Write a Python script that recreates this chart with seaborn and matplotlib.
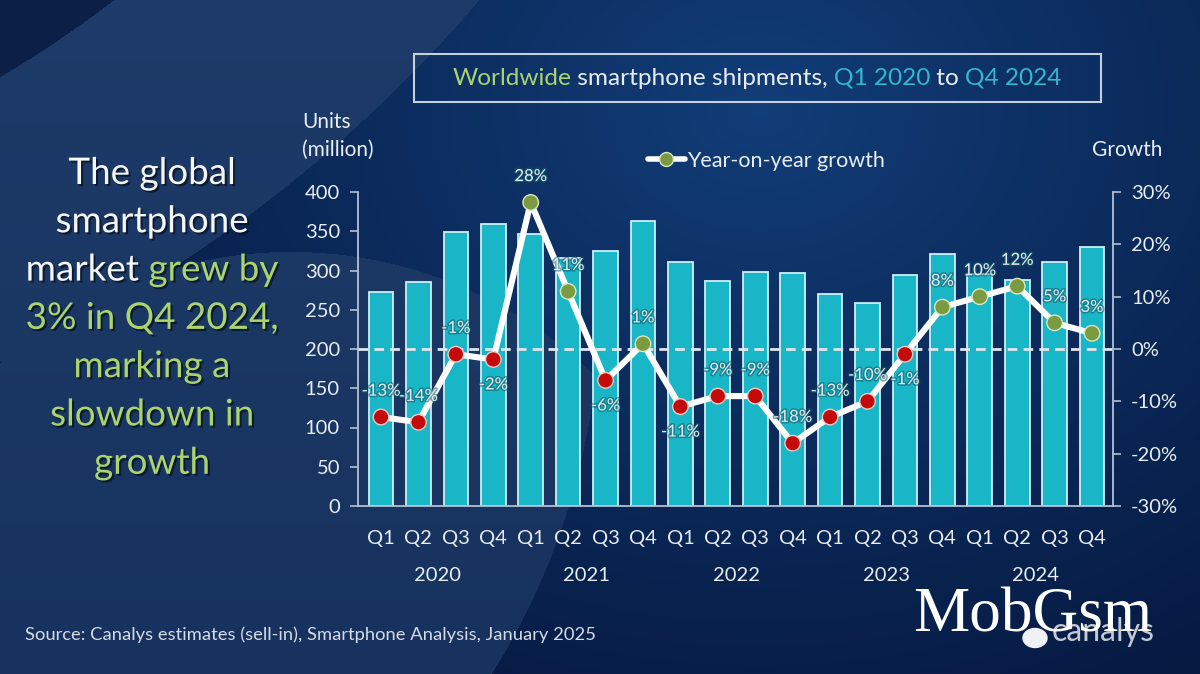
import numpy as np
import pandas as pd
import matplotlib
matplotlib.use("Agg")
import matplotlib.pyplot as plt
import seaborn as sns
from matplotlib import patheffects as pe
from matplotlib.patches import Rectangle, Ellipse
from matplotlib.lines import Line2D
from matplotlib.ticker import FuncFormatter

# ---------------- data ----------------
quarters = ["Q1", "Q2", "Q3", "Q4", "Q1", "Q2", "Q3", "Q4", "Q1", "Q2",
            "Q3", "Q4", "Q1", "Q2", "Q3", "Q4", "Q1", "Q2", "Q3", "Q4"]
quarter_years = ["2020", "2020", "2020", "2020", "2021", "2021", "2021", "2021",
                 "2022", "2022", "2022", "2022", "2023", "2023", "2023", "2023",
                 "2024", "2024", "2024", "2024"]
years = ["2020", "2021", "2022", "2023", "2024"]
shipments = [272.5, 285.0, 348.5, 359.5, 347.0, 316.0, 325.0, 362.5, 311.0, 287.0,
             298.0, 297.0, 269.5, 258.0, 294.5, 320.5, 296.0, 288.5, 310.5, 330.0]
growth = [-13, -14, -1, -2, 28, 11, -6, 1, -11, -9,
          -9, -18, -13, -10, -1, 8, 10, 12, 5, 3]
label_side = ["up", "up", "up", "down", "up", "up", "down", "up", "down", "up",
              "up", "up", "up", "up", "down", "up", "up", "up", "up", "up"]

# ---------------- style ----------------
sns.set_theme(style="white")
plt.rcParams["font.family"] = ["Lato", "DejaVu Sans"]

W_PX, H_PX = 1200, 674
TXT = "#e8edf4"
GREEN_T = "#a9d46e"
CYAN_T = "#32b9cb"
BAR = "#18b6c7"
BAR_EDGE = "#cdeff4"
SPINE = "#b4c0d4"
RED = "#c40a0a"
RED_EDGE = "#f2c8c0"
GRN = "#7b9a42"
GRN_EDGE = "#d9e8bd"


def fx(x):
    return x / W_PX


def fy(y):
    return 1 - y / H_PX


fig = plt.figure(figsize=(12, 6.74), dpi=100)

# ---------------- background ----------------
yy, xx = np.mgrid[0:H_PX, 0:W_PX].astype(float) + 0.5


def rgb(h):
    return np.array([int(h[i:i + 2], 16) for i in (1, 3, 5)]) / 255.0


t = np.clip(np.hypot(xx - 760, (yy - 110) * 1.25) / 820, 0, 1) ** 0.9
img = rgb("#123e79") * (1 - t)[..., None] + rgb("#061a42") * t[..., None]
d_ring = np.hypot(xx + 583, yy + 907)
ring = (d_ring > 1144) & (d_ring < 1397)
corner = d_ring <= 1144
big = np.hypot(xx + 100, yy - 300) < 700
low = np.hypot(xx - 291, yy - 687) < 435
light = ring | (big & low)
s = (yy / H_PX)[..., None]
light_col = rgb("#1e3b69") * (1 - s) + rgb("#17325e") * s
img[light] = light_col[light]
img[corner] = rgb("#0b1f47")

bg = fig.add_axes([0, 0, 1, 1], zorder=-10)
bg.imshow(img, extent=[0, W_PX, H_PX, 0], aspect="auto", interpolation="bilinear")
bg.set_xlim(0, W_PX)
bg.set_ylim(H_PX, 0)
bg.axis("off")

# ---------------- main chart ----------------
df = pd.DataFrame({
    "period": [q + " " + y for q, y in zip(quarters, quarter_years)],
    "units": shipments,
    "growth": growth,
})
df["pos"] = np.arange(len(df))
df["sign"] = np.where(df["growth"] > 0, "up", "down")

ax = fig.add_axes([fx(358), fy(506), (1113 - 358) / W_PX, (506 - 192) / H_PX])
ax.patch.set_alpha(0)
sns.barplot(data=df, x="period", y="units", ax=ax, color=BAR, saturation=1,
            width=0.66, edgecolor=BAR_EDGE, linewidth=1.3)
ax.set_ylim(0, 400)
ax.set_yticks(range(0, 401, 50))
ax.set_xticks(range(len(quarters)))
ax.set_xticklabels(quarters)
ax.set_xlabel("")
ax.set_ylabel("")
for sp in ["top", "right"]:
    ax.spines[sp].set_visible(False)
for sp in ["left", "bottom"]:
    ax.spines[sp].set_color(SPINE)
    ax.spines[sp].set_linewidth(1.3)
ax.tick_params(axis="y", direction="out", length=6, width=1.2, color=SPINE,
               pad=7, labelsize=14.5, labelcolor=TXT, left=True)
ax.tick_params(axis="x", length=0, pad=17, labelsize=14.5, labelcolor=TXT)

for j, yr in enumerate(years):
    members = [i for i, qy in enumerate(quarter_years) if qy == yr]
    ax.text(np.mean(members), -0.22, yr, transform=ax.get_xaxis_transform(),
            ha="center", va="center", fontsize=14.5, color=TXT)

ax2 = ax.twinx()
ax2.patch.set_alpha(0)
ax2.axhline(0, color="#dfe7f0", lw=2, ls=(0, (3.5, 2.2)), zorder=1)
sns.lineplot(data=df, x="pos", y="growth", ax=ax2, color="white", lw=4.4,
             legend=False, zorder=3)
ec = [GRN_EDGE if g > 0 else RED_EDGE for g in growth]
sns.scatterplot(data=df, x="pos", y="growth", hue="sign",
                palette={"up": GRN, "down": RED}, s=125, edgecolor=ec,
                linewidth=1.0, ax=ax2, legend=False, zorder=4)
for i, (g, side) in enumerate(zip(growth, label_side)):
    dy = 19 if side == "up" else -18
    ax2.annotate(f"{g}%", (i, g), xytext=(0, dy), textcoords="offset points",
                 ha="center", va="center", fontsize=12, color="#e3eaf0", zorder=6,
                 path_effects=[pe.withStroke(linewidth=2.2, foreground="#0f5968", alpha=0.55)])
ax2.set_ylim(-30, 30)
ax2.set_yticks(range(-30, 31, 10))
ax2.yaxis.set_major_formatter(FuncFormatter(lambda v, p: f"{v:.0f}%"))
ax2.set_ylabel("")
ax2.set_xlabel("")
for sp in ["top", "left", "bottom"]:
    ax2.spines[sp].set_visible(False)
ax2.spines["right"].set_color(SPINE)
ax2.spines["right"].set_linewidth(1.3)
ax2.tick_params(axis="y", direction="out", length=6, width=1.2, color=SPINE,
                pad=7, labelsize=14.5, labelcolor=TXT, right=True)
ax.set_xlim(-0.615, 19.56)

# legend
handle = Line2D([], [], color="white", lw=4, marker="o", markersize=10,
                markerfacecolor=GRN, markeredgecolor=GRN_EDGE)
fig.legend([handle], ["Year-on-year growth"], loc="center left",
           bbox_to_anchor=(fx(648), fy(161)), bbox_transform=fig.transFigure,
           frameon=False, handlelength=1.7, handletextpad=0.1, borderpad=0,
           borderaxespad=0, numpoints=1, prop={"size": 15.5}, labelcolor=TXT)

# axis titles
fig.text(fx(302), fy(122), "Units", ha="left", va="center", fontsize=15, color=TXT)
fig.text(fx(302), fy(150), "(million)", ha="left", va="center", fontsize=15, color=TXT)
fig.text(fx(1092), fy(150), "Growth", ha="left", va="center", fontsize=15, color=TXT)

# ---------------- multi-colour text helpers ----------------
renderer = fig.canvas.get_renderer()


def width_px(s, **kw):
    t1 = fig.text(0, 0, "|" + s + "|", **kw)
    w1 = t1.get_window_extent(renderer).width
    t1.remove()
    t0 = fig.text(0, 0, "||", **kw)
    w0 = t0.get_window_extent(renderer).width
    t0.remove()
    return w1 - w0


def rainbow(parts, xc, ybase, **kw):
    widths = [width_px(s, **kw) for s, _ in parts]
    x = xc - sum(widths) / 2
    for (s, c), w in zip(parts, widths):
        fig.text(fx(x), fy(ybase), s, color=c, ha="left", va="baseline", **kw)
        x += w


# title box
fig.patches.append(Rectangle((fx(414), fy(102)), (1101 - 414) / W_PX, (102 - 54) / H_PX,
                             transform=fig.transFigure, fill=False,
                             edgecolor="#c5d0df", lw=1.5))
rainbow([("Worldwide", GREEN_T), (" smartphone shipments, ", TXT),
         ("Q1 2020", CYAN_T), (" to ", TXT), ("Q4 2024", CYAN_T)],
        757, 85, fontsize=17.6)

# left headline
shadow = [pe.withSimplePatchShadow(offset=(1.5, -1.5), shadow_rgbFace="black", alpha=0.5)]
headline = [
    [("The global", "#f4f6f8")],
    [("smartphone", "#f4f6f8")],
    [("market ", "#f4f6f8"), ("grew by", GREEN_T)],
    [("3% in Q4 2024,", GREEN_T)],
    [("marking a", GREEN_T)],
    [("slowdown in", GREEN_T)],
    [("growth", GREEN_T)],
]
for k, parts in enumerate(headline):
    rainbow(parts, 152, 184 + 48.3 * k, fontsize=26.5, path_effects=shadow)

# source
fig.text(fx(25), fy(635),
         "Source: Canalys estimates (sell-in), Smartphone Analysis, January 2025",
         ha="left", va="center", fontsize=13.2, color="#d5dbe5")

# logo + watermark
fig.patches.append(Ellipse((fx(1035), fy(638)), 24 / W_PX, 19 / H_PX,
                           transform=fig.transFigure, color="#eef2f6"))
fig.text(fx(1052), fy(641), "canalys", ha="left", va="baseline", fontsize=23,
         color="#c3c9d3")
fig.text(fx(913), fy(631), "MobGsm", ha="left", va="baseline", fontsize=45.5,
         color="white", family=["Liberation Serif", "DejaVu Serif"])

fig.savefig("out.png", dpi=100)
